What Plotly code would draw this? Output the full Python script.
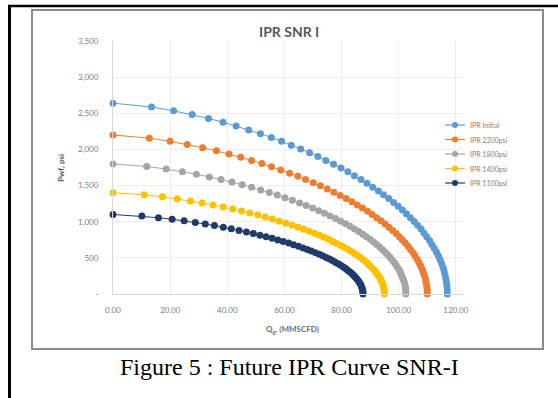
import plotly.graph_objects as go

# ---- data: IPR curves (gas rate Qg in MMSCFD vs flowing pressure Pwf in psi) ----
SERIES_NAMES = ["IPR Initial", "IPR 2200psi", "IPR 1800psi", "IPR 1400psi", "IPR 1100psi"]

PWF_INITIAL = [2640, 2587, 2534, 2482, 2429, 2376, 2323, 2270, 2218, 2165, 2112, 2059, 2006,
               1954, 1901, 1848, 1795, 1742, 1690, 1637, 1584, 1531, 1478, 1426, 1373, 1320,
               1267, 1214, 1162, 1109, 1056, 1003, 950, 898, 845, 792, 739, 686, 634, 581,
               528, 475, 422, 370, 317, 264, 211, 158, 106, 53, 0]
Q_INITIAL = [0.0, 13.5, 21.2, 27.7, 33.4, 38.5, 43.1, 47.5, 51.6, 55.4, 59.0, 62.4, 65.7,
             68.8, 71.7, 74.5, 77.2, 79.8, 82.2, 84.5, 86.8, 88.9, 90.9, 92.9, 94.7, 96.5,
             98.2, 99.8, 101.3, 102.7, 104.1, 105.4, 106.6, 107.8, 108.8, 109.8, 110.8,
             111.6, 112.4, 113.2, 113.9, 114.5, 115.0, 115.5, 115.9, 116.2, 116.5, 116.7,
             116.9, 117.0, 117.0]

PWF_2200 = [2200, 2156, 2112, 2068, 2024, 1980, 1936, 1892, 1848, 1804, 1760, 1716, 1672,
            1628, 1584, 1540, 1496, 1452, 1408, 1364, 1320, 1276, 1232, 1188, 1144, 1100,
            1056, 1012, 968, 924, 880, 836, 792, 748, 704, 660, 616, 572, 528, 484, 440,
            396, 352, 308, 264, 220, 176, 132, 88, 44, 0]
Q_2200 = [0.0, 12.7, 20.0, 26.0, 31.4, 36.2, 40.6, 44.7, 48.5, 52.1, 55.5, 58.7, 61.8,
          64.7, 67.4, 70.1, 72.6, 75.0, 77.3, 79.5, 81.6, 83.6, 85.5, 87.3, 89.1, 90.7,
          92.3, 93.8, 95.2, 96.6, 97.9, 99.1, 100.2, 101.3, 102.3, 103.3, 104.1, 105.0,
          105.7, 106.4, 107.0, 107.6, 108.1, 108.5, 108.9, 109.3, 109.5, 109.7, 109.9,
          110.0, 110.0]

PWF_1800 = [1800, 1764, 1728, 1692, 1656, 1620, 1584, 1548, 1512, 1476, 1440, 1404, 1368,
            1332, 1296, 1260, 1224, 1188, 1152, 1116, 1080, 1044, 1008, 972, 936, 900,
            864, 828, 792, 756, 720, 684, 648, 612, 576, 540, 504, 468, 432, 396, 360,
            324, 288, 252, 216, 180, 144, 108, 72, 36, 0]
Q_1800 = [0.0, 11.8, 18.6, 24.3, 29.2, 33.7, 37.8, 41.6, 45.2, 48.5, 51.7, 54.7, 57.5,
          60.2, 62.8, 65.3, 67.6, 69.9, 72.0, 74.0, 76.0, 77.9, 79.7, 81.4, 83.0, 84.5,
          86.0, 87.4, 88.7, 90.0, 91.2, 92.3, 93.4, 94.4, 95.3, 96.2, 97.0, 97.8, 98.5,
          99.1, 99.7, 100.3, 100.7, 101.1, 101.5, 101.8, 102.1, 102.3, 102.4, 102.5, 102.5]

PWF_1400 = [1400, 1372, 1344, 1316, 1288, 1260, 1232, 1204, 1176, 1148, 1120, 1092, 1064,
            1036, 1008, 980, 952, 924, 896, 868, 840, 812, 784, 756, 728, 700, 672, 644,
            616, 588, 560, 532, 504, 476, 448, 420, 392, 364, 336, 308, 280, 252, 224,
            196, 168, 140, 112, 84, 56, 28, 0]
Q_1400 = [0.0, 10.9, 17.3, 22.5, 27.1, 31.2, 35.0, 38.6, 41.9, 45.0, 47.9, 50.7, 53.3,
          55.8, 58.2, 60.5, 62.7, 64.8, 66.7, 68.6, 70.5, 72.2, 73.8, 75.4, 76.9, 78.3,
          79.7, 81.0, 82.3, 83.4, 84.5, 85.6, 86.6, 87.5, 88.4, 89.2, 89.9, 90.6, 91.3,
          91.9, 92.4, 92.9, 93.4, 93.7, 94.1, 94.4, 94.6, 94.8, 94.9, 95.0, 95.0]

PWF_1100 = [1100, 1078, 1056, 1034, 1012, 990, 968, 946, 924, 902, 880, 858, 836, 814,
            792, 770, 748, 726, 704, 682, 660, 638, 616, 594, 572, 550, 528, 506, 484,
            462, 440, 418, 396, 374, 352, 330, 308, 286, 264, 242, 220, 198, 176, 154,
            132, 110, 88, 66, 44, 22, 0]
Q_1100 = [0.0, 10.1, 15.9, 20.7, 24.9, 28.8, 32.3, 35.5, 38.6, 41.4, 44.1, 46.7, 49.1,
          51.4, 53.6, 55.7, 57.7, 59.6, 61.5, 63.2, 64.9, 66.5, 68.0, 69.4, 70.8, 72.2,
          73.4, 74.6, 75.8, 76.8, 77.8, 78.8, 79.7, 80.6, 81.4, 82.1, 82.8, 83.5, 84.1,
          84.6, 85.1, 85.6, 86.0, 86.3, 86.7, 86.9, 87.1, 87.3, 87.4, 87.5, 87.5]

X_TICKS = [0, 20, 40, 60, 80, 100, 120]
Y_TICKS = [0, 500, 1000, 1500, 2000, 2500, 3000, 3500]
Y_TICK_TEXT = ["-", "500", "1,000", "1,500", "2,000", "2,500", "3,000", "3,500"]

COLORS = ["#5B9BD5", "#ED7D31", "#A5A5A5", "#FFC000", "#1F3A6B"]
Q_SERIES = [Q_INITIAL, Q_2200, Q_1800, Q_1400, Q_1100]
P_SERIES = [PWF_INITIAL, PWF_2200, PWF_1800, PWF_1400, PWF_1100]

# ---- page geometry (pixels) ----
W, H = 558, 398
ML, MR, MT, MB = 113, 95, 41, 104
PW, PH = W - ML - MR, H - MT - MB


def px(x):
    return (x - ML) / PW


def py(y):
    return (H - MB - y) / PH


FONT = "Lato, 'Open Sans', sans-serif"
TXT = "#808080"

fig = go.Figure()
for name, q, p, c in zip(SERIES_NAMES, Q_SERIES, P_SERIES, COLORS):
    fig.add_trace(go.Scatter(
        x=q, y=p, name=name, mode="lines+markers",
        line=dict(color=c, width=1),
        marker=dict(color=c, size=7),
        showlegend=False, cliponaxis=False,
    ))

shapes = []
annotations = []

# chart frame and page rules
shapes.append(dict(type="rect", xref="paper", yref="paper",
                   x0=px(32), x1=px(543), y0=py(349), y1=py(10),
                   line=dict(color="#8a8a8a", width=2), layer="below"))
shapes.append(dict(type="line", xref="paper", yref="paper",
                   x0=px(8), x1=px(558), y0=py(6), y1=py(6),
                   line=dict(color="black", width=2.5)))
shapes.append(dict(type="line", xref="paper", yref="paper",
                   x0=px(9.5), x1=px(9.5), y0=py(5), y1=py(398),
                   line=dict(color="black", width=3)))

# legend drawn at the right of the plot
leg_y0, leg_dy = 125, 14.5
for i, (name, c) in enumerate(zip(SERIES_NAMES, COLORS)):
    yy = leg_y0 + i * leg_dy
    shapes.append(dict(type="line", xref="paper", yref="paper",
                       x0=px(445), x1=px(465), y0=py(yy), y1=py(yy),
                       line=dict(color=c, width=1.2)))
    shapes.append(dict(type="circle", xref="paper", yref="paper",
                       x0=px(452), x1=px(458), y0=py(yy + 3), y1=py(yy - 3),
                       fillcolor=c, line=dict(color=c, width=0)))
    annotations.append(dict(text=name, xref="paper", yref="paper",
                            x=px(468), y=py(yy), xanchor="left", yanchor="middle",
                            showarrow=False, font=dict(family=FONT, size=7, color=TXT)))

# titles
annotations.append(dict(text="<b>IPR SNR I</b>", xref="paper", yref="paper",
                        x=px(289), y=py(32), xanchor="center", yanchor="middle",
                        showarrow=False, font=dict(family=FONT, size=14, color="#595959")))
annotations.append(dict(text="<b>Pwf, psi</b>", xref="paper", yref="paper",
                        x=px(61), y=py(168), xanchor="center", yanchor="middle",
                        textangle=-90, showarrow=False,
                        font=dict(family=FONT, size=8, color="#595959")))
annotations.append(dict(text="<b>Q<sub>g</sub>, (MMSCFD)</b>", xref="paper", yref="paper",
                        x=px(292), y=py(329), xanchor="center", yanchor="middle",
                        showarrow=False, font=dict(family=FONT, size=8, color="#6e6e6e")))
annotations.append(dict(text="Figure 5 : Future IPR Curve SNR-I", xref="paper", yref="paper",
                        x=px(289), y=py(367), xanchor="center", yanchor="middle",
                        showarrow=False,
                        font=dict(family="'Liberation Serif', 'Times New Roman', serif",
                                  size=24, color="black")))

fig.update_layout(
    width=W, height=H,
    margin=dict(l=ML, r=MR, t=MT, b=MB, pad=0),
    paper_bgcolor="white", plot_bgcolor="white",
    shapes=shapes, annotations=annotations,
    showlegend=False,
    font=dict(family=FONT, size=8, color=TXT),
)
fig.update_xaxes(
    range=[0, 122.5], tickvals=X_TICKS, tickformat=".2f",
    showgrid=True, gridcolor="#ededed", gridwidth=1,
    showline=True, linecolor="#d9d9d9", linewidth=1,
    zeroline=False, ticks="", ticklabelstandoff=8,
    tickfont=dict(family=FONT, size=8, color=TXT),
)
fig.update_yaxes(
    range=[0, 3500], tickvals=Y_TICKS, ticktext=Y_TICK_TEXT,
    showgrid=True, gridcolor="#ededed", gridwidth=1,
    showline=True, linecolor="#d9d9d9", linewidth=1,
    zeroline=False, ticks="", ticklabelstandoff=12,
    tickfont=dict(family=FONT, size=8, color=TXT),
)

fig.write_html("out.html")
